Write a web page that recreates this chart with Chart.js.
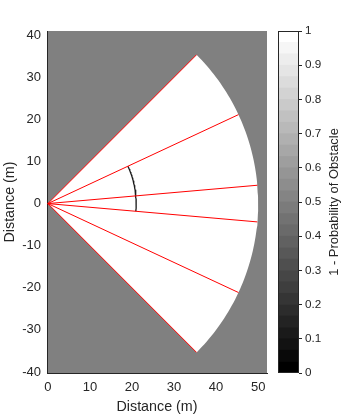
<!DOCTYPE html>
<html>
<head>
<meta charset="utf-8">
<script src="https://cdn.jsdelivr.net/npm/chart.js@4.4.0/dist/chart.umd.min.js"></script>
<style>
html, body { margin: 0; padding: 0; background: #fff; }
#wrap { position: relative; width: 342px; height: 420px; }
#wrap canvas { position: absolute; left: 0; top: 0; }
</style>
</head>
<body>
<div id="wrap">
  <canvas id="map" width="342" height="420"></canvas>
  <canvas id="cbar" width="342" height="420"></canvas>
</div>
<script>
// capteur : origine, portée et angles des rayons (degrés)
const sensorOrigin = [0, 0];
const sensorRange = 50;
const fovLimits = [45, -45];
const rayAngles = [45, 25, 5, -5, -25, -45];
// arc noir qui marque l'écart angulaire
const markerAngles = [25, -5];
const markerRadius = 21;

// axes
const xLimits = [-0.2, 52.1];
const yLimits = [-40.25, 41];
const xTicks = [0, 10, 20, 30, 40, 50];
const yTicks = [-40, -30, -20, -10, 0, 10, 20, 30, 40];

// barre de couleur
const cbarTicks = [0, 0.1, 0.2, 0.3, 0.4, 0.5, 0.6, 0.7, 0.8, 0.9, 1];
const cbarLevels = 30;
const cbarLabel = '1 - Probability of Obstacle';
const axisLabel = 'Distance (m)';

const textColor = '#262626';
const unknownGray = '#808080';
Chart.defaults.font.family = '"Liberation Sans", Arial, Helvetica, sans-serif';
Chart.defaults.color = textColor;

function polar(r, deg) {
    let a = deg * Math.PI / 180;
    return { x: sensorOrigin[0] + r * Math.cos(a), y: sensorOrigin[1] + r * Math.sin(a) };
}

// points le long d'un arc, un par degré
function arcPoints(r, from, to) {
    let pts = [];
    let step = from > to ? -1 : 1;
    for (let d = from; step > 0 ? d <= to : d >= to; d += step) pts.push(polar(r, d));
    return pts;
}

let origin = { x: sensorOrigin[0], y: sensorOrigin[1] };
let sectorPoints = [origin, ...arcPoints(sensorRange, fovLimits[0], fovLimits[1]), origin];

let datasets = [];
for (let ang of rayAngles) {
    datasets.push({
        data: [origin, polar(sensorRange, ang)],
        borderColor: '#ff0000',
        borderWidth: 1,
        showLine: true,
        pointRadius: 0,
        fill: false
    });
}
datasets.push({
    data: arcPoints(markerRadius, markerAngles[0], markerAngles[1]),
    borderColor: '#1a1a1a',
    borderWidth: 1.3,
    showLine: true,
    pointRadius: 0,
    fill: false
});
// zone libre (blanche), dessinée en dernier donc en dessous
datasets.push({
    data: sectorPoints,
    borderColor: '#ffffff',
    borderWidth: 0,
    backgroundColor: '#ffffff',
    showLine: true,
    pointRadius: 0,
    fill: 'shape'
});

const grayBackground = {
    id: 'grayBackground',
    beforeDraw(chart) {
        let a = chart.chartArea;
        let ctx = chart.ctx;
        ctx.save();
        ctx.fillStyle = unknownGray;
        ctx.fillRect(a.left, a.top, a.right - a.left, a.bottom - a.top);
        ctx.restore();
    }
};

const tickFont = { size: 13 };
const titleFont = { size: 14.3 };

new Chart(document.querySelector('#map'), {
    type: 'scatter',
    data: { datasets: datasets },
    options: {
        responsive: false,
        animation: false,
        events: [],
        layout: { padding: { top: 31, right: 75, left: 0, bottom: 0 } },
        plugins: { legend: { display: false }, tooltip: { enabled: false } },
        scales: {
            x: {
                type: 'linear',
                min: xLimits[0],
                max: xLimits[1],
                afterBuildTicks: s => { s.ticks = xTicks.map(v => ({ value: v })); },
                afterFit: s => { s.height = 47; },
                grid: { display: true, drawOnChartArea: false, drawTicks: false, color: 'transparent' },
                border: { display: true, color: textColor, width: 1 },
                ticks: { font: tickFont, color: textColor, padding: 7, maxRotation: 0 },
                title: { display: true, text: axisLabel, font: titleFont, color: textColor, padding: { top: 0, bottom: 4 } }
            },
            y: {
                type: 'linear',
                min: yLimits[0],
                max: yLimits[1],
                afterBuildTicks: s => { s.ticks = yTicks.map(v => ({ value: v })); },
                afterFit: s => { s.width = 47; },
                grid: { display: true, drawOnChartArea: false, drawTicks: false, color: 'transparent' },
                border: { display: true, color: textColor, width: 1 },
                ticks: { font: tickFont, color: textColor, padding: 6 },
                title: { display: true, text: axisLabel, font: titleFont, color: textColor, padding: { top: 1, bottom: 0 } }
            }
        }
    },
    plugins: [grayBackground]
});

// barre de couleur : une barre empilée par niveau de gris
let cbarSets = [];
for (let i = 0; i < cbarLevels; i++) {
    let g = Math.round(i / (cbarLevels - 1) * 255);
    cbarSets.push({
        data: [1 / cbarLevels],
        backgroundColor: `rgb(${g},${g},${g})`,
        borderWidth: 0,
        barPercentage: 1,
        categoryPercentage: 1
    });
}

const cbarDecor = {
    id: 'cbarDecor',
    afterDatasetsDraw(chart) {
        let a = chart.chartArea;
        let ctx = chart.ctx;
        ctx.save();
        ctx.strokeStyle = textColor;
        ctx.lineWidth = 1;
        ctx.strokeRect(Math.round(a.left) + 0.5, Math.round(a.top) + 0.5, Math.round(a.right - a.left) - 1, Math.round(a.bottom - a.top) - 1);
        ctx.restore();
    },
    afterDraw(chart) {
        let a = chart.chartArea;
        let ctx = chart.ctx;
        ctx.save();
        ctx.translate(334, (a.top + a.bottom) / 2);
        ctx.rotate(-Math.PI / 2);
        ctx.fillStyle = textColor;
        ctx.font = '12.9px "Liberation Sans", Arial, sans-serif';
        ctx.textAlign = 'center';
        ctx.textBaseline = 'middle';
        ctx.fillText(cbarLabel, 0, 0);
        ctx.restore();
    }
};

new Chart(document.querySelector('#cbar'), {
    type: 'bar',
    data: { labels: [''], datasets: cbarSets },
    options: {
        responsive: false,
        animation: false,
        events: [],
        layout: { padding: { top: 31, right: 0, left: 278, bottom: 47 } },
        plugins: { legend: { display: false }, tooltip: { enabled: false } },
        scales: {
            x: { display: false, stacked: true },
            y: {
                stacked: true,
                position: 'right',
                min: 0,
                max: 1,
                afterBuildTicks: s => { s.ticks = cbarTicks.map(v => ({ value: v })); },
                afterFit: s => { s.width = 43; },
                grid: { drawOnChartArea: false, tickLength: 3, color: textColor },
                border: { display: false },
                ticks: { font: { size: 11.7 }, color: textColor, padding: 3, callback: v => String(v) }
            }
        }
    },
    plugins: [cbarDecor]
});
</script>
</body>
</html>
